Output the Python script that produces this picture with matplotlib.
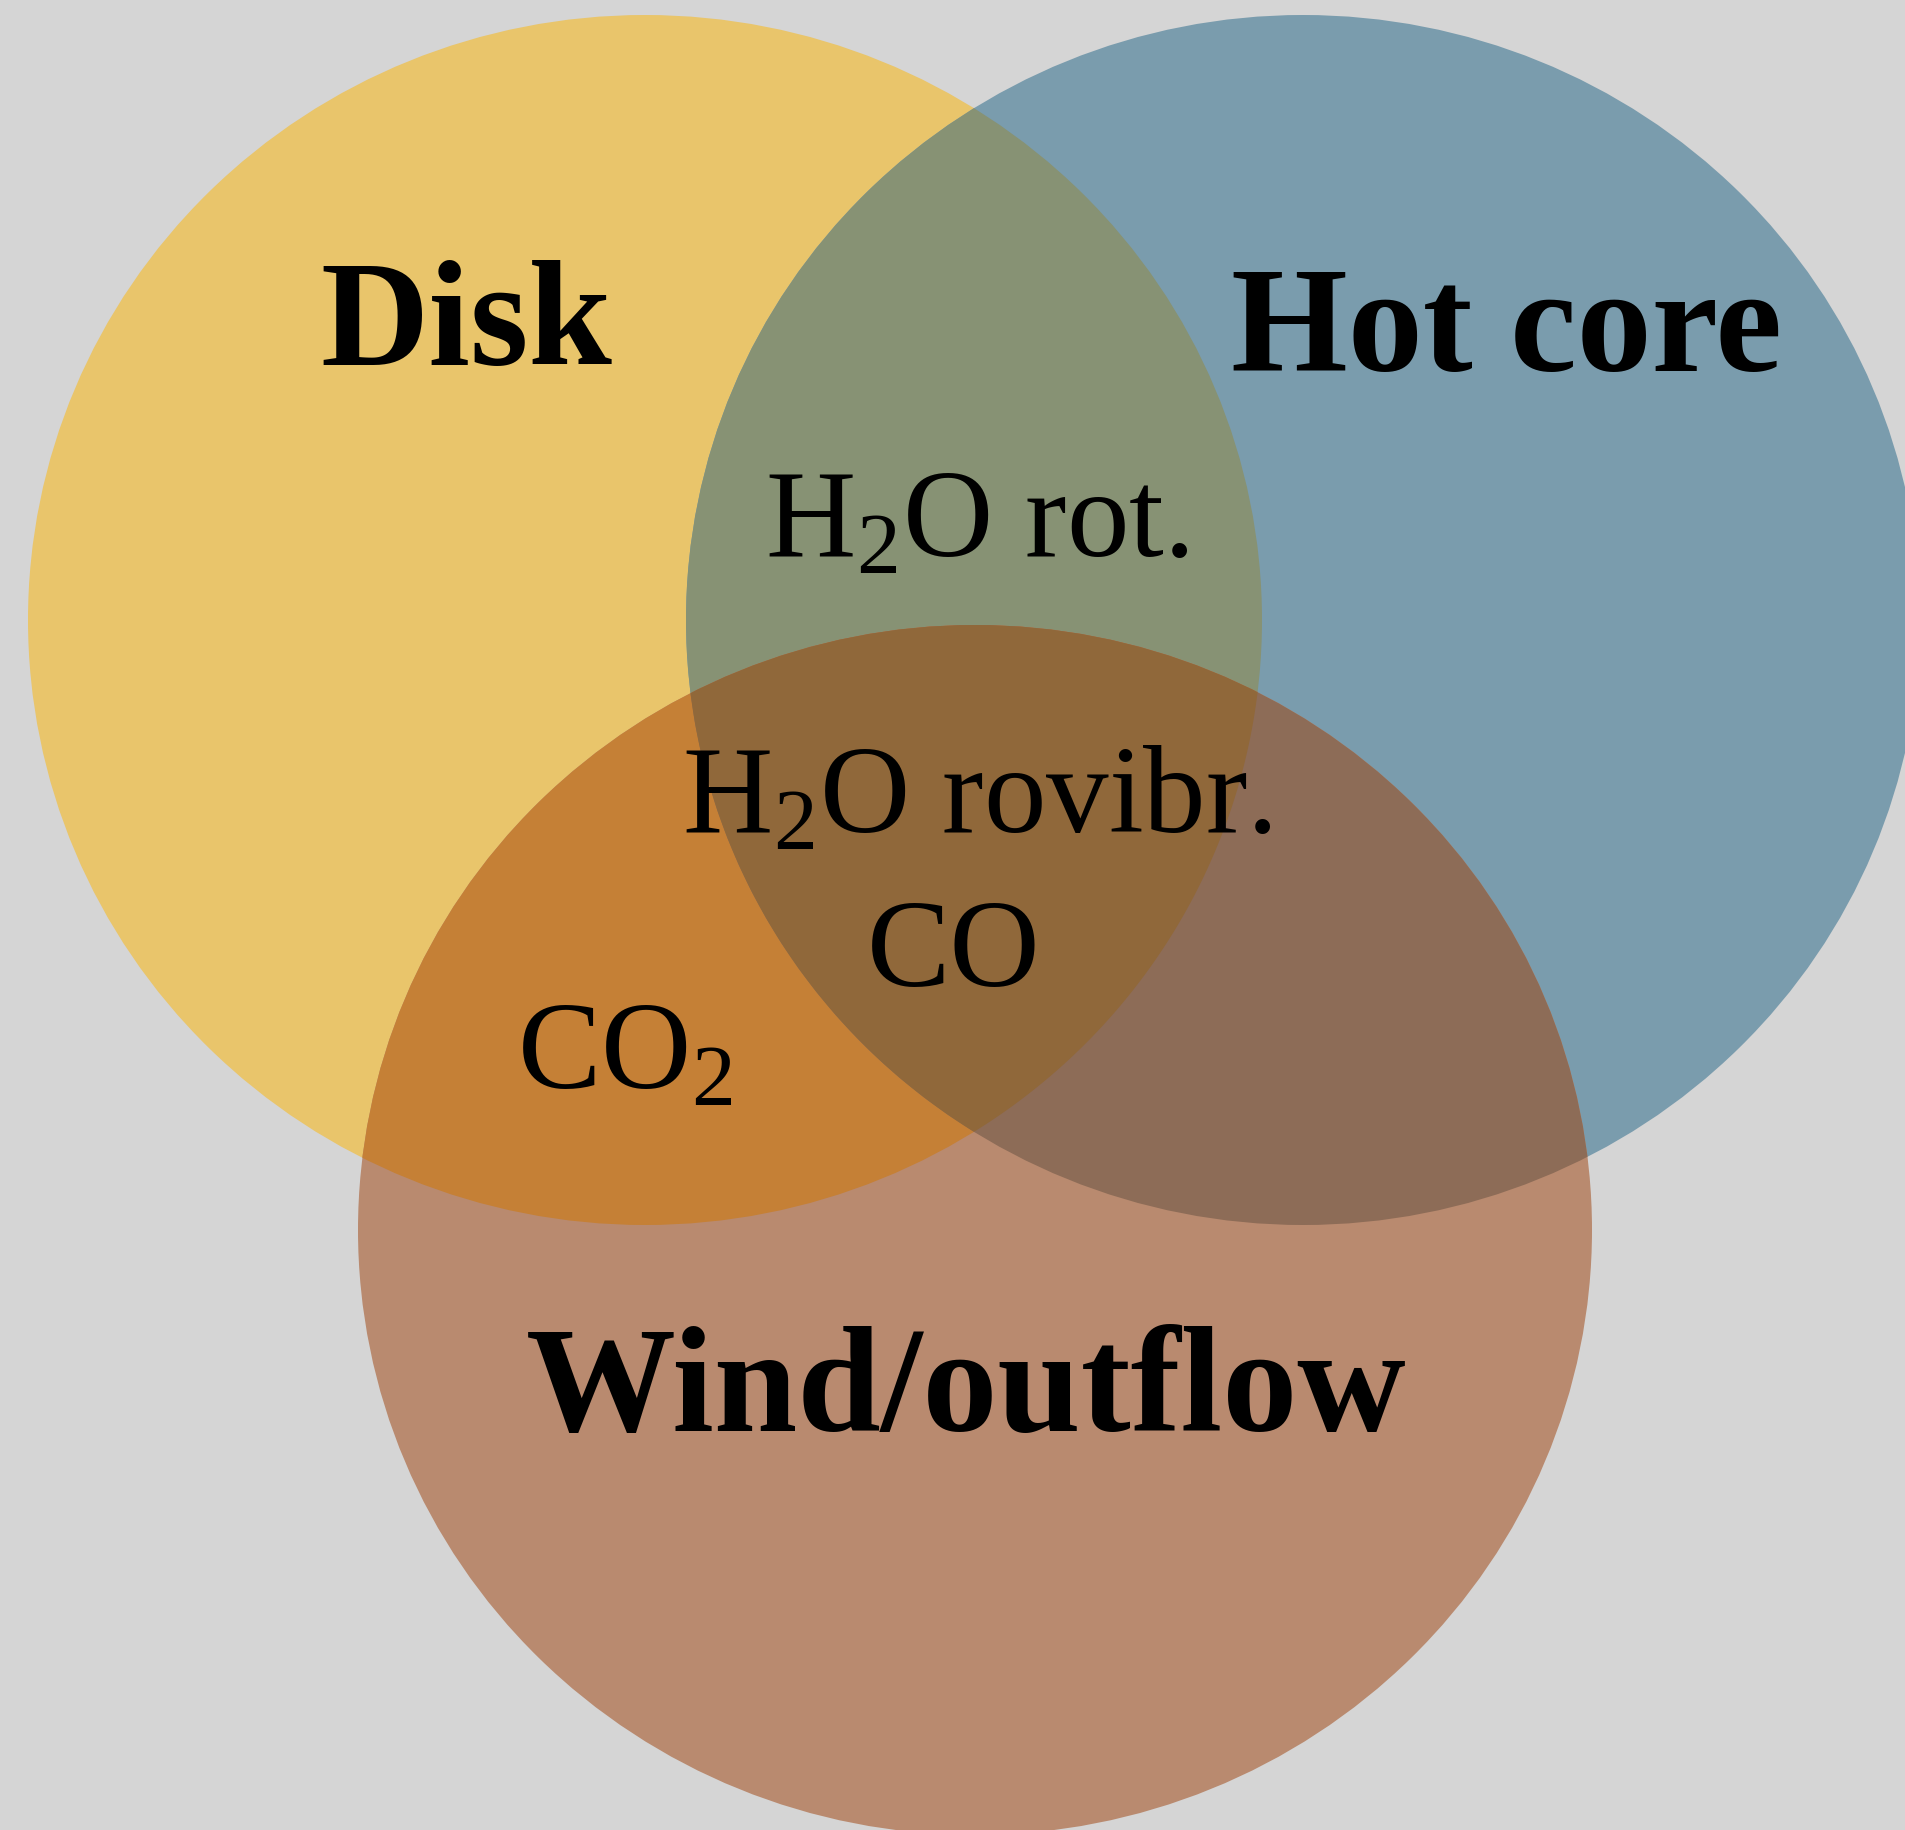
import numpy as np
import matplotlib
matplotlib.use("Agg")
from matplotlib import pyplot as plt
from matplotlib.patches import Ellipse, Polygon

plt.rcParams['mathtext.fontset'] = 'custom'
plt.rcParams['mathtext.rm'] = 'Liberation Serif'
plt.rcParams['mathtext.it'] = 'Liberation Serif:italic'
plt.rcParams['mathtext.bf'] = 'Liberation Serif:bold'

# sets (pixel geometry of the picture)
set_names = ["Disk", "Hot core", "Wind/outflow"]
set_centers = [(645, 621), (1303, 621), (975, 1231)]
set_size = (1234, 1210)

# region colours
bg_color = "#d5d5d5"
only_colors = ["#e9c56b", "#7a9cad", "#b98a6f"]
pair_colors = {(0, 1): "#879274", (0, 2): "#c58036", (1, 2): "#8d6c57"}
triple_color = "#90683a"

# labels
set_label_pos = [(466, 365), (1507, 371), (966, 1431)]
region_labels = ["H$_2$O rot.", "H$_2$O rovibr.", "CO", "CO$_2$"]
region_label_pos = [(977, 557), (977, 833), (954, 986), (625, 1089)]

W, H = 1906, 1831
fig = plt.figure(figsize=(W / 100, H / 100), dpi=100)
fig.patch.set_facecolor(bg_color)
ax = fig.add_axes([0, 0, 1, 1])
ax.set_xlim(0, W)
ax.set_ylim(H, 0)
ax.axis("off")


def ell(i, color):
    return Ellipse(set_centers[i], set_size[0], set_size[1], facecolor=color,
                   edgecolor="none", lw=0)


# clip shapes
clip = [ell(i, "none") for i in range(3)]
for c in clip:
    ax.add_patch(c)

# each region gets its own colour, layered
ax.add_patch(ell(0, only_colors[0]))
ax.add_patch(ell(1, only_colors[1]))
p = ax.add_patch(ell(0, pair_colors[(0, 1)]))
p.set_clip_path(clip[1])
ax.add_patch(ell(2, only_colors[2]))
p = ax.add_patch(ell(0, pair_colors[(0, 2)]))
p.set_clip_path(clip[2])
p = ax.add_patch(ell(1, pair_colors[(1, 2)]))
p.set_clip_path(clip[2])

# lens of disk & hot core, clipped to wind -> triple region
a, b = set_size[0] / 2, set_size[1] / 2


def inside(x, y, i):
    cx, cy = set_centers[i]
    return ((x - cx) / a) ** 2 + ((y - cy) / b) ** 2 <= 1


t0 = np.linspace(-np.pi, np.pi, 2000)
x0 = set_centers[0][0] + a * np.cos(t0)
y0 = set_centers[0][1] + b * np.sin(t0)
m0 = inside(x0, y0, 1)
t1 = np.linspace(0, 2 * np.pi, 2000)
x1 = set_centers[1][0] + a * np.cos(t1)
y1 = set_centers[1][1] + b * np.sin(t1)
m1 = inside(x1, y1, 0)
lens = np.vstack([np.column_stack([x0[m0], y0[m0]]),
                  np.column_stack([x1[m1], y1[m1]])])
p = ax.add_patch(Polygon(lens, closed=True, facecolor=triple_color,
                         edgecolor="none", lw=0))
p.set_clip_path(clip[2])

for name, (x, y) in zip(set_names, set_label_pos):
    ax.text(x, y, name, ha="center", va="baseline", fontsize=108,
            fontweight="bold", family="Liberation Serif", color="black")

for lab, (x, y) in zip(region_labels, region_label_pos):
    ax.text(x, y, lab, ha="center", va="baseline", fontsize=90,
            family="Liberation Serif", color="black")

fig.savefig("out.png", dpi=100, facecolor=bg_color)
